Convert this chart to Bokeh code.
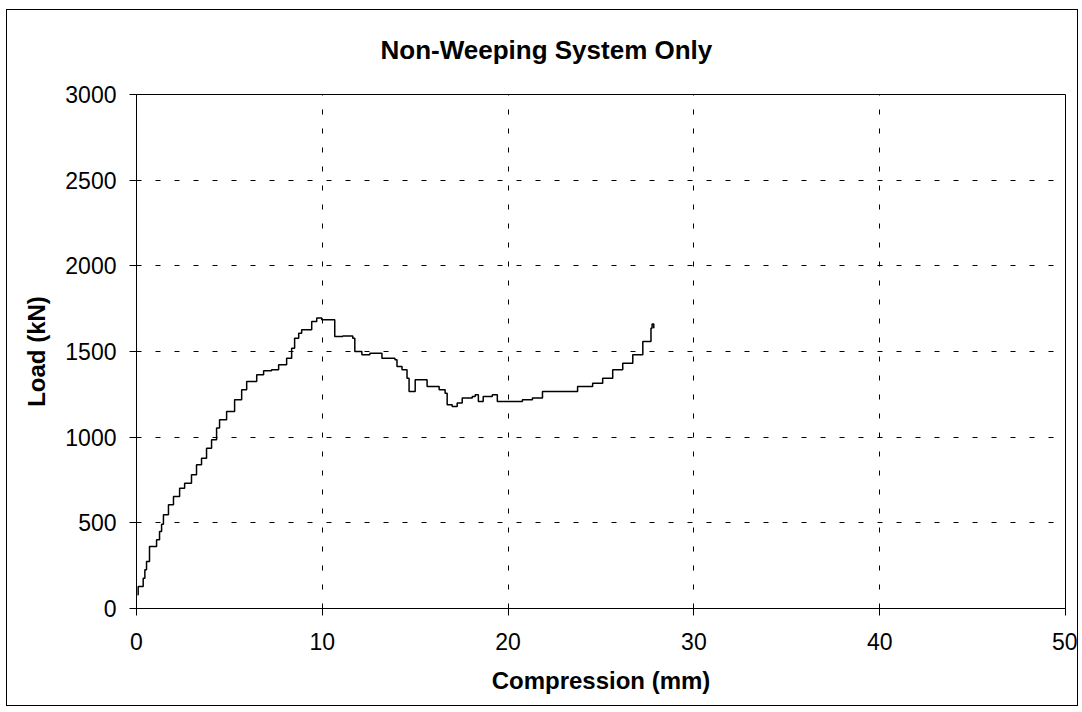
from bokeh.plotting import figure
from bokeh.models import Range1d, FixedTicker, Title
from bokeh.embed import file_html
from bokeh.resources import INLINE

# Data
compression_mm = [0.05, 0.09, 0.36, 0.45, 0.54, 0.70, 1.08, 1.24, 1.35, 1.45,
                  1.72, 1.99, 2.32, 2.59, 2.96, 3.23, 3.50, 3.77, 4.04, 4.31,
                  4.47, 4.85, 5.28, 5.66, 5.93, 6.47, 6.84, 7.27, 7.65, 8.08,
                  8.35, 8.51, 8.73, 8.89, 9.43, 9.70, 9.97, 10.61, 10.67, 11.10,
                  11.64, 11.75, 12.13, 12.56, 13.21, 13.91, 14.02, 14.29, 14.56, 14.67,
                  14.94, 15.00, 15.50, 15.64, 16.29, 16.61, 16.72, 16.99, 17.26, 17.53,
                  18.07, 18.23, 18.40, 18.66, 19.15, 19.42, 19.96, 20.77, 21.31, 21.85,
                  23.74, 23.74, 24.55, 25.09, 25.63, 26.17, 26.71, 27.25, 27.69, 27.75,
                  27.84]
load_kn = [80, 128, 177, 226, 274, 362, 401, 449, 492, 547,
           605, 654, 702, 731, 780, 839, 877, 936, 985, 1053,
           1101, 1150, 1218, 1277, 1325, 1364, 1388, 1393, 1423, 1461,
           1519, 1578, 1607, 1627, 1675, 1695, 1685, 1685, 1588, 1590,
           1578, 1500, 1481, 1490, 1461, 1452, 1413, 1393, 1344, 1267,
           1267, 1335, 1335, 1296, 1277, 1257, 1189, 1179, 1199, 1228,
           1238, 1247, 1208, 1238, 1247, 1208, 1208, 1218, 1228, 1267,
           1267, 1296, 1315, 1344, 1393, 1432, 1481, 1558, 1636, 1660,
           1636]

x_ticks = [0, 10, 20, 30, 40, 50]
y_ticks = [0, 500, 1000, 1500, 2000, 2500, 3000]

title_text = "Non-Weeping System Only"
x_label = "Compression (mm)"
y_label = "Load (kN)"

FONT = "Liberation Sans"

p = figure(width=1072, height=697, output_backend="svg", toolbar_location=None,
           x_range=Range1d(0, 50), y_range=Range1d(0, 3000),
           min_border_left=129, min_border_right=14, min_border_top=84, min_border_bottom=99)
p.styles = {"border": "1px solid black", "box-sizing": "border-box",
            "margin-left": "6px", "margin-top": "9px"}
p.title = None

# blank spacer between the frame and the title (inner), then the title (outer)
spacer = Title(text=" ", text_font=FONT, text_font_size="25px", standoff=0)
p.add_layout(spacer, "above")
main_title = Title(text=title_text, text_font=FONT, text_font_size="26px",
                   text_font_style="bold", text_color="black",
                   align="left", offset=244, standoff=0)
p.add_layout(main_title, "above")

p.background_fill_color = "white"
p.border_fill_color = "white"
p.outline_line_color = "black"
p.outline_line_width = 1

for ax in (p.xaxis[0], p.yaxis[0]):
    ax.axis_line_color = "black"
    ax.major_tick_line_color = "black"
    ax.major_tick_in = 0
    ax.major_tick_out = 7
    ax.minor_tick_line_color = None
    ax.major_label_text_font = FONT
    ax.major_label_text_font_size = "23px"
    ax.major_label_text_color = "black"
    ax.axis_label_text_font = FONT
    ax.axis_label_text_font_size = "24px"
    ax.axis_label_text_font_style = "bold"
    ax.axis_label_text_color = "black"

p.xaxis.ticker = FixedTicker(ticks=x_ticks)
p.yaxis.ticker = FixedTicker(ticks=y_ticks)
p.xaxis.axis_label = x_label
p.yaxis.axis_label = y_label
p.xaxis.major_label_standoff = 17
p.yaxis.major_label_standoff = 13
p.xaxis.axis_label_standoff = 14
p.yaxis.axis_label_standoff = 12

for g in (p.xgrid[0], p.ygrid[0]):
    g.grid_line_color = "black"
    g.grid_line_width = 1
    g.grid_line_dash = "5 14"

p.step(compression_mm, load_kn, mode="after", line_color="black", line_width=1.5)

open("out.html", "w").write(file_html(p, INLINE))
